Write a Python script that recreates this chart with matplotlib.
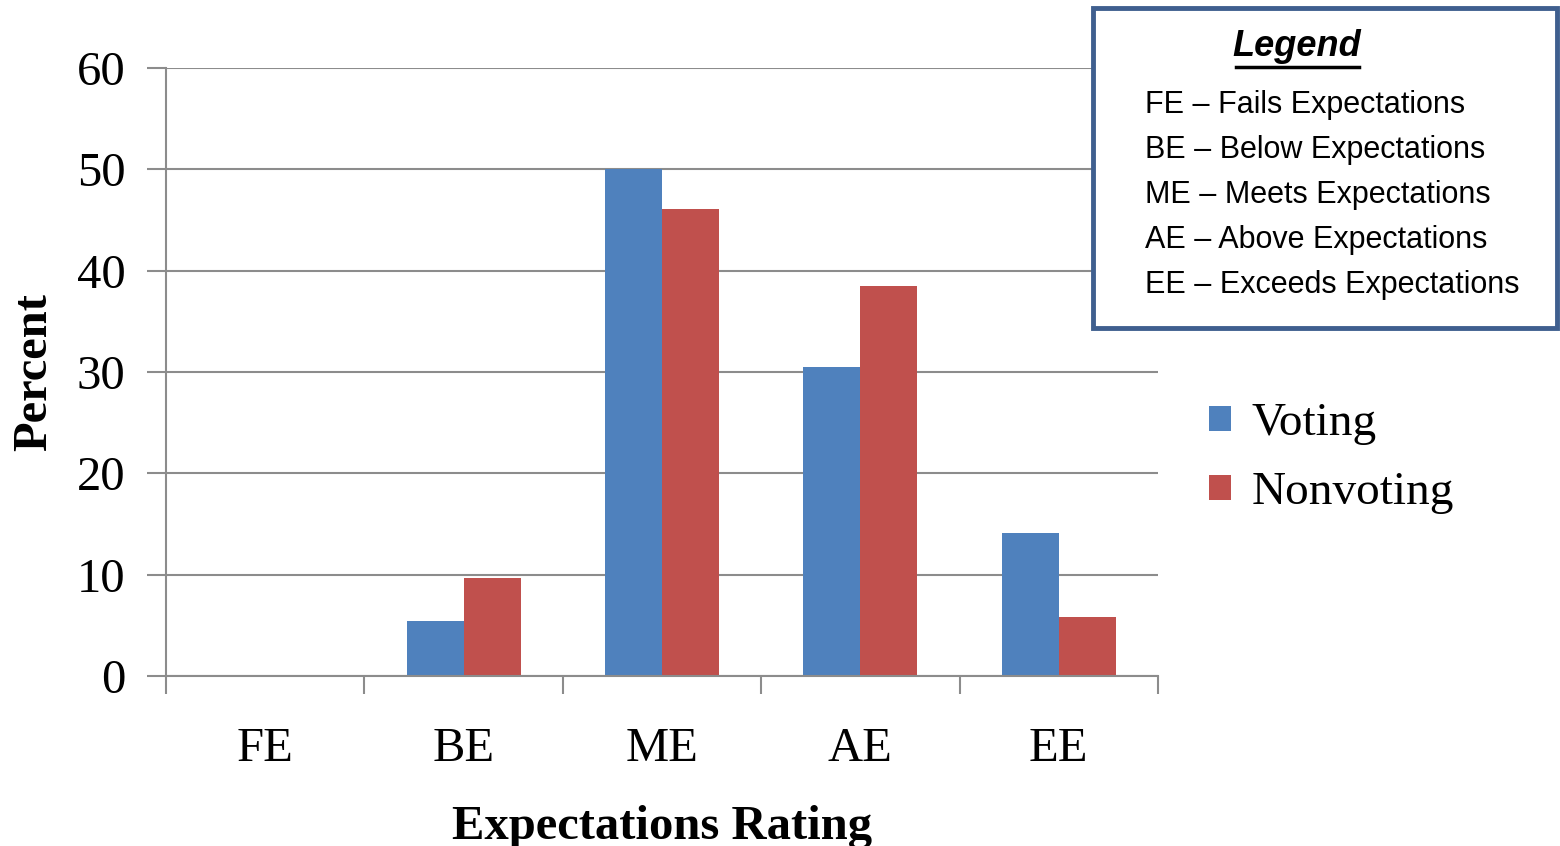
import numpy as np
import matplotlib.pyplot as plt
from matplotlib.patches import Rectangle

# percent of ratings in each expectations category
ratings = ['FE', 'BE', 'ME', 'AE', 'EE']
voting = [0, 5.4, 50.0, 30.5, 14.1]
nonvoting = [0, 9.7, 46.1, 38.5, 5.8]
key_lines = ['FE \u2013 Fails Expectations',
             'BE \u2013 Below Expectations',
             'ME \u2013 Meets Expectations',
             'AE \u2013 Above Expectations',
             'EE \u2013 Exceeds Expectations']

serif = ['Liberation Serif', 'DejaVu Serif']
sans = ['Liberation Sans', 'DejaVu Sans']
grey = '#8c8c8c'

fig = plt.figure(figsize=(15.6, 8.46), dpi=100)
ax = fig.add_axes([0.1064, 0.2009, 0.6359, 0.7187])

x = np.arange(len(ratings))
w = 0.287
b1 = ax.bar(x - w/2, voting, w, color='#4F81BD', label='Voting')
b2 = ax.bar(x + w/2, nonvoting, w, color='#C0504D', label='Nonvoting')

ax.set_xlim(-0.5, len(ratings) - 0.5)
ax.set_ylim(0, 60)
ax.set_yticks(range(0, 61, 10))
ax.yaxis.grid(True, color=grey, linewidth=1.5)
ax.set_axisbelow(True)

# category ticks sit between the groups
ax.set_xticks(np.arange(-0.5, len(ratings)), minor=False)
ax.set_xticklabels([])
ax.set_xticks(x, minor=True)
ax.set_xticklabels(ratings, minor=True, fontsize=35, family=serif)
ax.tick_params(axis='x', which='major', length=13, width=1.5, color=grey, direction='out')
ax.tick_params(axis='x', which='minor', length=0, pad=37)
ax.tick_params(axis='y', length=14, width=1.5, color=grey, pad=15, labelsize=35)
for lab in ax.get_yticklabels():
    lab.set_family(serif)

for s in ['top', 'right']:
    ax.spines[s].set_visible(False)
for s in ['left', 'bottom']:
    ax.spines[s].set_color(grey)
    ax.spines[s].set_linewidth(1.5)

ax.set_xlabel('Expectations Rating', fontsize=35, fontweight='bold', family=serif, labelpad=24)
ax.set_ylabel('Percent', fontsize=35, fontweight='bold', family=serif, labelpad=15)

fig.legend(handles=[b1, b2], loc='center left', bbox_to_anchor=(0.748, 0.458),
           frameon=False, prop={'family': serif, 'size': 34},
           handlelength=0.45, handleheight=0.45, handletextpad=0.45, labelspacing=0.56)

# key box for the rating abbreviations
W, H = 1560, 846
box = Rectangle((1093 / W, 1 - 328 / H), 464 / W, 320 / H, transform=fig.transFigure,
                facecolor='white', edgecolor='#3F5F8F', linewidth=3.5, zorder=5)
fig.patches.append(box)
fig.text(1297 / W, 1 - 46 / H, 'Legend', ha='center', va='center', fontsize=26,
         fontweight='bold', style='italic', family=sans, zorder=6)
fig.add_artist(plt.Line2D([1236 / W, 1359 / W], [1 - 67 / H, 1 - 67 / H],
                          transform=fig.transFigure, color='black', linewidth=2.5, zorder=6))
for i, line in enumerate(key_lines):
    fig.text(1145 / W, 1 - (105 + 45 * i) / H, line, ha='left', va='center',
             fontsize=22, family=sans, zorder=6)

fig.savefig('out.png', dpi=100)
